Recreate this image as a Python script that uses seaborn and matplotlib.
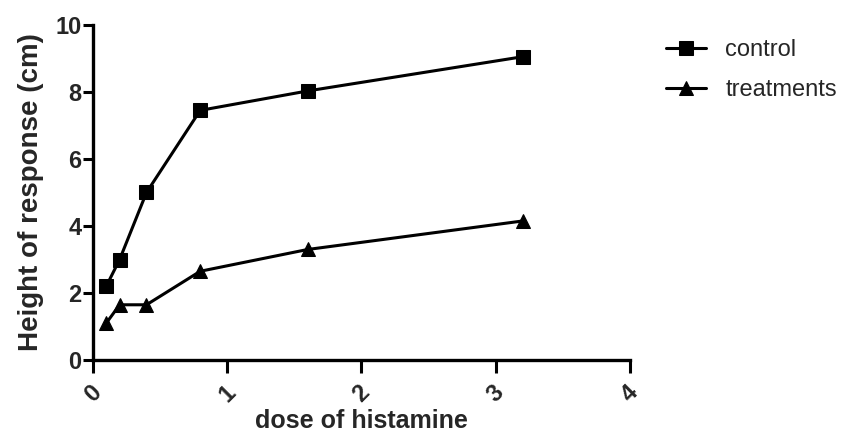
import matplotlib
matplotlib.use('Agg')
import matplotlib.pyplot as plt
import seaborn as sns
import pandas as pd

dose = [0.1, 0.2, 0.4, 0.8, 1.6, 3.2]
control = [2.2, 3.0, 5.0, 7.45, 8.03, 9.05]
treatments = [1.1, 1.65, 1.65, 2.65, 3.3, 4.15]
x_ticks = [0, 1, 2, 3, 4]
y_ticks = [0, 2, 4, 6, 8, 10]

df = pd.DataFrame({
    'dose': dose * 2,
    'height': control + treatments,
    'group': ['control'] * len(dose) + ['treatments'] * len(dose),
})

sns.set_style('ticks')
plt.rcParams['font.family'] = ['Liberation Sans', 'DejaVu Sans']

fig = plt.figure(figsize=(8.59, 4.37), dpi=100)
fig.subplots_adjust(left=0.108, right=0.7334, bottom=0.176, top=0.943)
ax = fig.add_subplot(111)

sns.lineplot(data=df, x='dose', y='height', style='group',
             markers={'control': 's', 'treatments': '^'}, dashes=False,
             color='black', markersize=10, linewidth=2.2,
             markeredgecolor='black', ax=ax)

ax.set_xlim(0, 4)
ax.set_ylim(0, 10)
ax.set_xticks(x_ticks)
ax.set_yticks(y_ticks)
ax.set_xticklabels([str(t) for t in x_ticks], rotation=45, ha='center',
                   fontsize=17, fontweight='bold')
ax.set_yticklabels([str(t) for t in y_ticks], fontsize=17, fontweight='bold')
ax.tick_params(axis='x', length=9, width=2.2, pad=6, color='black')
ax.tick_params(axis='y', length=7, width=2.2, pad=1, color='black')

for side in ['top', 'right']:
    ax.spines[side].set_visible(False)
for side in ['left', 'bottom']:
    ax.spines[side].set_linewidth(2.4)
    ax.spines[side].set_color('black')

ax.set_xlabel('dose of histamine', fontsize=18, fontweight='bold', labelpad=2)
ax.set_ylabel('Height of response (cm)', fontsize=20, fontweight='bold', labelpad=8)

handles, labels = ax.get_legend_handles_labels()
ax.legend(handles, labels, loc='upper left', bbox_to_anchor=(1.05, 0.985),
          frameon=False, fontsize=17, handlelength=1.7, handletextpad=0.8,
          labelspacing=0.75, borderaxespad=0)

fig.savefig('out.png', dpi=100)
